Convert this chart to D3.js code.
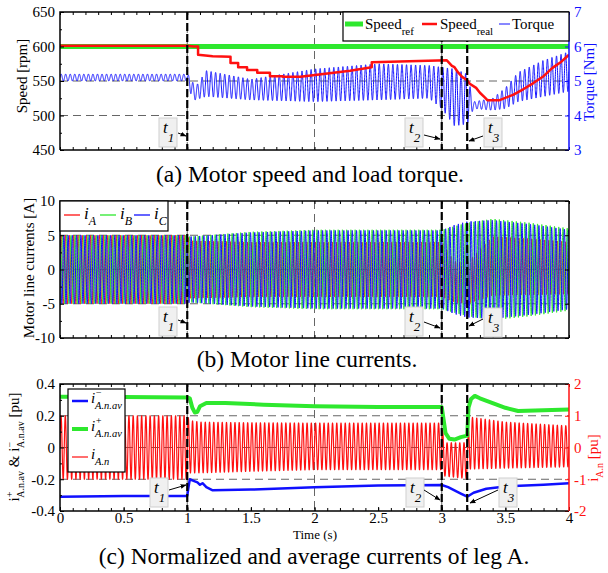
<!DOCTYPE html>
<html>
<head>
<meta charset="utf-8">
<script src="https://cdn.jsdelivr.net/npm/d3@7"></script>
<style>
body { margin: 0; background: #fff; }
text { font-family: "Liberation Serif", "Times New Roman", serif; }
</style>
</head>
<body>
<script>
var width = 608;
var height = 573;

// event instants t1, t2, t3 (s)
var eventTimes = [1, 3, 3.2];
var eventLabels = ["1", "2", "3"];

// (a) speed [rpm] and torque [Nm]
var speedRefTime = [0, 4];
var speedRefValue = [600, 600];
var speedTime = [0, 1.0, 1.05, 1.085, 1.085, 1.2, 1.34, 1.34, 1.4, 1.4, 1.47, 1.47, 1.55, 1.55, 1.65, 1.65, 1.75, 1.75, 1.89,
                 2.28, 2.45, 2.45, 3.04, 3.08, 3.1, 3.13, 3.16, 3.2, 3.22, 3.27, 3.3, 3.34, 3.36, 3.45,
                 3.56, 3.64, 3.72, 3.8, 3.87, 3.94, 4.0];
var speedValue = [601, 601, 600, 600, 588, 586, 585, 576, 576, 570, 570, 566, 566, 562, 562, 557, 557, 556, 556,
                  565, 570, 577, 580, 572, 570, 562, 556, 551, 546, 540, 533, 526, 522, 522,
                  530, 538, 547, 557, 569, 578, 588];
var torqueTime  = [0, 1.0, 1.03, 1.06, 1.15, 1.5, 2.0, 2.5, 2.9, 3.0, 3.1, 3.2, 3.25, 3.4, 3.5, 3.6, 3.8, 4.0];
var torqueUpper = [5.2, 5.2, 5.1, 4.8, 5.3, 5.05, 5.35, 5.5, 5.45, 5.4, 5.35, 5.2, 4.4, 4.5, 4.8, 5.25, 5.6, 5.85];
var torqueLower = [5.0, 5.0, 4.6, 4.45, 4.55, 4.45, 4.4, 4.45, 4.5, 4.2, 3.7, 3.75, 4.2, 4.15, 4.2, 4.4, 4.55, 4.7];
var torqueFreq = 28;

// (b) line currents [A], amplitude envelopes
var currentTime = [0, 1.0, 1.02, 1.5, 2.0, 2.5, 3.0, 3.1, 3.2, 3.4, 3.7, 4.0];
var ampA    = [5, 5, 4.2, 4.0, 4.0, 4.0, 4.0, 3.0, 3.0, 4.3, 4.1, 3.8];
var offsetA = [0, 0, 0, 0, 0, 0, 0, -1.8, -2.0, 0.5, 0.4, 0.2];
var ampB    = [5, 5, 4.8, 5.5, 5.8, 5.8, 5.8, 6.3, 6.8, 7.4, 6.8, 6.0];
var ampC    = [5, 5, 4.8, 5.4, 5.7, 5.7, 5.7, 6.5, 7.0, 7.2, 6.6, 5.8];
var lineFreq = 30;

// (c) normalized current of leg A [pu] (right axis) and averages (left axis)
var normTime  = [0, 1.0, 1.02, 1.1, 1.5, 2.0, 2.5, 3.0, 3.02, 3.2, 3.22, 3.5, 4.0];
var normUpper = [1.0, 1.0, 0.85, 0.8, 0.78, 0.77, 0.77, 0.77, 0.15, 0.15, 0.96, 0.8, 0.68];
var normLower = [-1.0, -1.0, -0.8, -0.8, -0.75, -0.7, -0.7, -0.7, -0.9, -0.98, -0.68, -0.65, -0.61];
var avPlusTime  = [0, 0.5, 1.0, 1.02, 1.04, 1.06, 1.08, 1.1, 1.15, 1.3, 1.6, 2.0, 2.5, 3.0, 3.01, 3.03, 3.06, 3.1, 3.15, 3.2, 3.21, 3.23, 3.26, 3.3, 3.4, 3.5, 3.6, 3.8, 4.0];
var avPlusValue = [0.32, 0.318, 0.315, 0.31, 0.25, 0.22, 0.225, 0.26, 0.28, 0.28, 0.27, 0.26, 0.255, 0.255, 0.2, 0.09, 0.055, 0.05, 0.065, 0.075, 0.25, 0.305, 0.325, 0.31, 0.28, 0.25, 0.23, 0.235, 0.24];
var avMinusTime  = [0, 0.5, 1.0, 1.01, 1.02, 1.05, 1.08, 1.1, 1.12, 1.15, 1.2, 1.5, 2.0, 2.5, 3.0, 3.05, 3.1, 3.15, 3.2, 3.25, 3.35, 3.5, 3.8, 4.0];
var avMinusValue = [-0.31, -0.305, -0.305, -0.25, -0.2, -0.21, -0.22, -0.235, -0.225, -0.25, -0.27, -0.265, -0.25, -0.24, -0.236, -0.25, -0.27, -0.29, -0.31, -0.285, -0.26, -0.245, -0.235, -0.225];

var green = "#2ee82e", red = "#ff1010", blue = "#1010ff";

var svg = d3.select("body").append("svg")
    .attr("width", width)
    .attr("height", height);

var x = d3.scaleLinear().domain([0, 4]).range([60, 569]);

var panelA = {top: 12, bottom: 150};
var panelB = {top: 201, bottom: 338};
var panelC = {top: 384, bottom: 511};

var ySpeed  = d3.scaleLinear().domain([450, 650]).range([panelA.bottom, panelA.top]);
var yTorque = d3.scaleLinear().domain([3, 7]).range([panelA.bottom, panelA.top]);
var yCur    = d3.scaleLinear().domain([-10, 10]).range([panelB.bottom, panelB.top]);
var yAv     = d3.scaleLinear().domain([-0.4, 0.4]).range([panelC.bottom, panelC.top]);
var yNorm   = d3.scaleLinear().domain([-2, 2]).range([panelC.bottom, panelC.top]);

// oscillating trace between an upper and lower envelope
function wave(times, upper, lower, freq, phase) {
    var up = d3.scaleLinear().domain(times).range(upper);
    var lo = d3.scaleLinear().domain(times).range(lower);
    return d3.range(0, 4.00001, 0.0005).map(function(t) {
        var u = up(t), l = lo(t);
        return [t, (u + l) / 2 + (u - l) / 2 * Math.sin(2 * Math.PI * freq * t + phase)];
    });
}

function pairs(ts, vs) {
    return ts.map(function(t, i) { return [t, vs[i]]; });
}

function clip(id, p) {
    svg.append("clipPath").attr("id", id)
        .append("rect").attr("x", 60).attr("y", p.top).attr("width", 509).attr("height", p.bottom - p.top);
}
clip("ca", panelA); clip("cb", panelB); clip("cc", panelC);

function grid(p, yScale, yVals) {
    var g = svg.append("g").attr("stroke", "#666").attr("stroke-width", 1).attr("stroke-dasharray", "8,5");
    yVals.forEach(function(v) {
        g.append("line").attr("x1", 60).attr("x2", 569).attr("y1", yScale(v)).attr("y2", yScale(v));
    });
    [1, 2, 3].forEach(function(v) {
        g.append("line").attr("x1", x(v)).attr("x2", x(v)).attr("y1", p.top).attr("y2", p.bottom);
    });
}

function styleAxis(sel, color, size) {
    sel.select(".domain").remove();
    sel.selectAll("line").attr("stroke", color);
    sel.selectAll("text").attr("fill", color).attr("font-size", size || 15)
        .attr("font-family", "Liberation Serif, Times New Roman, serif");
}

function axes(p, yLeft, leftTicks, leftMinor, yRight, rightTicks, rightColor, showX) {
    var fmt = function(d) { return String(d); };
    svg.append("g").attr("transform", "translate(60,0)")
        .call(d3.axisLeft(yLeft).tickValues(leftTicks).tickSize(-4).tickPadding(5).tickFormat(fmt))
        .call(styleAxis, "#000");
    svg.append("g").attr("transform", "translate(60,0)")
        .call(d3.axisLeft(yLeft).tickValues(leftMinor).tickSize(-2).tickFormat(""))
        .call(styleAxis, "#000");
    var rAxis = yRight ? d3.axisRight(yRight).tickValues(rightTicks).tickSize(-4).tickPadding(5).tickFormat(fmt)
                       : d3.axisRight(yLeft).tickValues(leftTicks).tickSize(-4).tickFormat("");
    svg.append("g").attr("transform", "translate(569,0)").call(rAxis).call(styleAxis, rightColor);
    svg.append("g").attr("transform", "translate(0," + p.top + ")")
        .call(d3.axisTop(x).tickValues(d3.range(0, 4.01, 0.1)).tickSize(-3).tickFormat(""))
        .call(styleAxis, "#000");
    svg.append("g").attr("transform", "translate(0," + p.bottom + ")")
        .call(d3.axisBottom(x).tickValues(d3.range(0, 4.01, 0.1)).tickSize(-3).tickFormat(""))
        .call(styleAxis, "#000");
    if (showX) {
        svg.append("g").attr("transform", "translate(0," + p.bottom + ")")
            .call(d3.axisBottom(x).tickValues(d3.range(0, 4.01, 0.5)).tickSize(-4).tickPadding(1).tickFormat(fmt))
            .call(styleAxis, "#000", 15);
    }
    // frame
    svg.append("path")
        .attr("d", "M60," + p.bottom + "V" + p.top + "H569")
        .attr("fill", "none").attr("stroke", "#000").attr("stroke-width", 1.5);
    svg.append("line").attr("x1", 60).attr("x2", 569).attr("y1", p.bottom).attr("y2", p.bottom)
        .attr("stroke", "#000").attr("stroke-width", 1.5);
    svg.append("line").attr("x1", 569).attr("x2", 569).attr("y1", p.top).attr("y2", p.bottom)
        .attr("stroke", rightColor).attr("stroke-width", 1.5);
}

function trace(clipId, data, yScale, color, w) {
    svg.append("path")
        .datum(data)
        .attr("clip-path", "url(#" + clipId + ")")
        .attr("fill", "none")
        .attr("stroke", color)
        .attr("stroke-width", w)
        .attr("stroke-linejoin", "round")
        .attr("d", d3.line().x(function(d) { return x(d[0]); }).y(function(d) { return yScale(d[1]); }));
}

function eventLines(p) {
    eventTimes.forEach(function(t) {
        svg.append("line").attr("x1", x(t)).attr("x2", x(t)).attr("y1", p.top).attr("y2", p.bottom)
            .attr("stroke", "#000").attr("stroke-width", 2.2).attr("stroke-dasharray", "8,3");
    });
}

svg.append("defs").append("marker")
    .attr("id", "arr").attr("viewBox", "0 0 10 10").attr("refX", 9).attr("refY", 5)
    .attr("markerWidth", 6).attr("markerHeight", 6).attr("orient", "auto")
    .append("path").attr("d", "M0,1L10,5L0,9z").attr("fill", "#000");

// tag boxes: [box left, box top, arrow from x, from y, to x, to y]
function tags(list) {
    list.forEach(function(b, i) {
        svg.append("rect").attr("x", b[0]).attr("y", b[1]).attr("width", 18).attr("height", 29)
            .attr("fill", "#f0f0f0").attr("stroke", "#cfcfcf").attr("stroke-width", 1);
        var t = svg.append("text").attr("x", b[0] + 4).attr("y", b[1] + 15)
            .attr("font-size", 17).attr("font-style", "italic");
        t.append("tspan").text("t");
        t.append("tspan").attr("dy", 9).attr("font-size", 13).text(eventLabels[i]);
        svg.append("line").attr("x1", b[2]).attr("y1", b[3]).attr("x2", b[4]).attr("y2", b[5])
            .attr("stroke", "#000").attr("stroke-width", 1).attr("marker-end", "url(#arr)");
    });
}

// ---------- (a) ----------
grid(panelA, ySpeed, [600, 550, 500]);
trace("ca", wave(torqueTime, torqueUpper, torqueLower, torqueFreq, 0), yTorque, blue, 1);
trace("ca", pairs(speedRefTime, speedRefValue), ySpeed, green, 5);
trace("ca", pairs(speedTime, speedValue), ySpeed, red, 2.5);
eventLines(panelA);
axes(panelA, ySpeed, [450, 500, 550, 600, 650], [475, 525, 575, 625], yTorque, [3, 4, 5, 6, 7], blue, false);
tags([[159, 118, 178, 133, 186, 136], [405, 118, 424, 135, 440, 139], [484, 118, 483, 136, 469, 141]]);

// legend (a)
var legA = svg.append("g");
legA.append("rect").attr("x", 343).attr("y", 12).attr("width", 226).attr("height", 29)
    .attr("fill", "#fff").attr("stroke", "#000").attr("stroke-width", 1.2);
[[345, 363, green, 5, 365, "Speed", "ref"], [422, 437, red, 2.5, 440, "Speed", "real"], [499, 510, blue, 1, 512, "Torque", ""]]
    .forEach(function(l) {
        legA.append("line").attr("x1", l[0]).attr("x2", l[1]).attr("y1", 24).attr("y2", 24)
            .attr("stroke", l[2]).attr("stroke-width", l[3]);
        var t = legA.append("text").attr("x", l[4]).attr("y", 29).attr("font-size", 15);
        t.append("tspan").text(l[5]);
        if (l[6]) t.append("tspan").attr("dy", 6).attr("font-size", 11).text(l[6]);
    });

svg.append("text").attr("transform", "translate(27,76) rotate(-90)")
    .attr("text-anchor", "middle").attr("font-size", 15).text("Speed [rpm]");
svg.append("text").attr("transform", "translate(594,82) rotate(-90)")
    .attr("text-anchor", "middle").attr("font-size", 15).attr("fill", blue).text("Torque [Nm]");
svg.append("text").attr("x", 310).attr("y", 182).attr("text-anchor", "middle")
    .attr("font-size", 23.5).text("(a) Motor speed and load torque.");

// ---------- (b) ----------
grid(panelB, yCur, [5, 0, -5]);
var ampAUp = ampA.map(function(a, i) { return offsetA[i] + a; });
var ampALo = ampA.map(function(a, i) { return offsetA[i] - a; });
trace("cb", wave(currentTime, ampAUp, ampALo, lineFreq, 0), yCur, red, 1);
trace("cb", wave(currentTime, ampB, ampB.map(function(a) { return -a; }), lineFreq, -2 * Math.PI / 3), yCur, green, 1);
trace("cb", wave(currentTime, ampC, ampC.map(function(a) { return -a; }), lineFreq, 2 * Math.PI / 3), yCur, blue, 1);
eventLines(panelB);
axes(panelB, yCur, [-10, -5, 0, 5, 10], [-7.5, -2.5, 2.5, 7.5], null, null, "#000", false);
tags([[159, 307, 178, 320, 186, 323], [405, 307, 424, 322, 440, 328], [484, 308, 483, 319, 469, 326]]);

var legB = svg.append("g");
legB.append("rect").attr("x", 60).attr("y", 201).attr("width", 108).attr("height", 30)
    .attr("fill", "#fff").attr("stroke", "#000").attr("stroke-width", 1.2);
[[64, 80, red, 84, "A"], [100, 116, green, 120, "B"], [134, 150, blue, 154, "C"]].forEach(function(l) {
    legB.append("line").attr("x1", l[0]).attr("x2", l[1]).attr("y1", 215).attr("y2", 215)
        .attr("stroke", l[2]).attr("stroke-width", 1.3);
    var t = legB.append("text").attr("x", l[3]).attr("y", 219).attr("font-size", 17).attr("font-style", "italic");
    t.append("tspan").text("i");
    t.append("tspan").attr("dy", 6).attr("font-size", 12).text(l[4]);
});

svg.append("text").attr("transform", "translate(34,268) rotate(-90)")
    .attr("text-anchor", "middle").attr("font-size", 15).text("Motor line currents [A]");
svg.append("text").attr("x", 307).attr("y", 367).attr("text-anchor", "middle")
    .attr("font-size", 23.5).text("(b) Motor line currents.");

// ---------- (c) ----------
grid(panelC, yAv, [0.2, 0, -0.2]);
trace("cc", wave(normTime, normUpper, normLower, lineFreq, 0), yNorm, red, 1.2);
trace("cc", pairs(avPlusTime, avPlusValue), yAv, green, 4);
trace("cc", pairs(avMinusTime, avMinusValue), yAv, blue, 2.5);
eventLines(panelC);
axes(panelC, yAv, [-0.4, -0.2, 0, 0.2, 0.4], [-0.3, -0.1, 0.1, 0.3], yNorm, [-2, -1, 0, 1, 2], red, true);
tags([[150, 478, 169, 490, 186, 485], [406, 478, 424, 490, 440, 500], [499, 478, 498, 490, 470, 503]]);

var legC = svg.append("g");
legC.append("rect").attr("x", 68).attr("y", 389).attr("width", 57).attr("height", 83)
    .attr("fill", "#fff").attr("stroke", "#000").attr("stroke-width", 1.2);
[[401, blue, 2.5, "\u2212", "A.n.av"], [429, green, 4, "+", "A.n.av"], [457, red, 1.2, "", "A.n"]].forEach(function(l) {
    legC.append("line").attr("x1", 72).attr("x2", 88).attr("y1", l[0]).attr("y2", l[0])
        .attr("stroke", l[1]).attr("stroke-width", l[2]);
    var t = legC.append("text").attr("x", 91).attr("y", l[0] + 2).attr("font-size", 15).attr("font-style", "italic");
    t.append("tspan").text("i");
    if (l[3]) t.append("tspan").attr("dy", -7).attr("font-size", 10).text(l[3]);
    t.append("tspan").attr("x", 95).attr("dy", l[3] ? 13 : 6).attr("font-size", 10.5).text(l[4]);
});

var yl = svg.append("text").attr("transform", "translate(19,447) rotate(-90)")
    .attr("text-anchor", "middle").attr("font-size", 15);
yl.append("tspan").text("i");
yl.append("tspan").attr("dy", -6).attr("font-size", 10).text("+");
yl.append("tspan").attr("dx", -6).attr("dy", 11).attr("font-size", 10).text("A.n.av");
yl.append("tspan").attr("dy", -5).text(" & i");
yl.append("tspan").attr("dy", -6).attr("font-size", 10).text("\u2212");
yl.append("tspan").attr("dx", -6).attr("dy", 11).attr("font-size", 10).text("A.n.av");
yl.append("tspan").attr("dy", -5).text(" [pu]");

var yr = svg.append("text").attr("transform", "translate(598,458) rotate(-90)")
    .attr("text-anchor", "middle").attr("font-size", 15).attr("fill", red);
yr.append("tspan").text("i");
yr.append("tspan").attr("dy", 5).attr("font-size", 10).text("A.n");
yr.append("tspan").attr("dy", -5).text(" [pu]");

svg.append("text").attr("x", 315).attr("y", 539).attr("text-anchor", "middle")
    .attr("font-size", 13).text("Time (s)");
svg.append("text").attr("x", 314).attr("y", 564).attr("text-anchor", "middle")
    .attr("font-size", 23.5).text("(c) Normalized and average currents of leg A.");
</script>
</body>
</html>
